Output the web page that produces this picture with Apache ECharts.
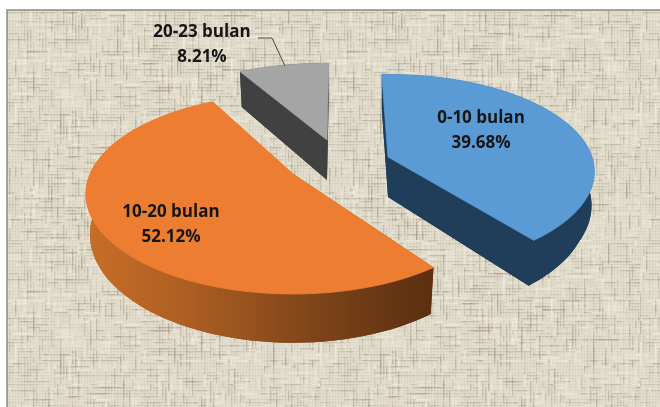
<!DOCTYPE html>
<html><head><meta charset="utf-8">
<style>html,body{margin:0;padding:0;background:#fff}#c{width:660px;height:407px}</style>
<script src="https://cdn.jsdelivr.net/npm/echarts@6/dist/echarts.min.js"></script>
</head><body><div id="c"></div>
<script>
const categories = ['0-10 bulan', '10-20 bulan', '20-23 bulan'];
const shares = [39.68, 52.12, 8.21];
const shareLabels = ['39.68%', '52.12%', '8.21%'];

// projection of each exploded slice: tilted disc with perspective
const apexX = [388, 293, 327];
const apexY = [157, 174, 140];
const radiusX = [204, 203, 203];
const radiusY = [95, 96, 88.5];
const perspective = [0.15, 0.2, 0.15];
const startDeg = [-2, 144.6, 331];
const depth = [40, 39, 40];
const shrink = [0.965, 0.98, 0.98];
const topColors = ['#5B9BD5', '#ED7D31', '#A5A5A5'];
const sideColors = ['#203E59', '#8A4C1C', '#414141'];
const labelX = [481, 171, 202];
const labelY = [118, 212, 32];
const drawOrder = [2, 1, 0];

function makeTexture() {
  const W = 320, H = 240, cv = document.createElement('canvas');
  cv.width = W; cv.height = H;
  const g = cv.getContext('2d');
  g.fillStyle = '#E3DDCD'; g.fillRect(0, 0, W, H);
  let seed = 11;
  const rnd = () => (seed = (seed * 16807) % 2147483647) / 2147483647;
  g.filter = 'blur(0.6px)';
  g.fillStyle = 'rgba(170,160,135,0.10)';
  for (let x = 0; x < W; x += 3) g.fillRect(x, 0, 1, H);
  for (let y = 0; y < H; y += 3) g.fillRect(0, y, W, 1);
  for (let i = 0; i < 2600; i++) {
    const horiz = rnd() < 0.5, dark = rnd() < 0.55;
    const gx = Math.floor(rnd() * W / 3) * 3, gy = Math.floor(rnd() * H / 3) * 3;
    const len = 4 + rnd() * 22;
    g.fillStyle = dark ? 'rgba(150,140,115,' + (0.1 + rnd() * 0.25) + ')'
                       : 'rgba(242,237,222,' + (0.25 + rnd() * 0.4) + ')';
    if (horiz) g.fillRect(gx, gy, len, 1.4); else g.fillRect(gx, gy, 1.4, len);
  }
  return cv;
}

function point(i, deg, lower) {
  const t = deg * Math.PI / 180;
  const s = 1 / (1 + perspective[i] * Math.cos(t));
  let x = radiusX[i] * Math.sin(t) * s;
  let y = -radiusY[i] * Math.cos(t) * s;
  if (lower) {
    const ramp = Math.max(0, Math.min(1, (deg - 85) / 30));
    x *= 1 - (1 - shrink[i]) * ramp;
    y += depth[i] * s;
  }
  return [apexX[i] + x, apexY[i] + y];
}
function arc(i, lower) {
  const a = startDeg[i], span = shares[i] * 3.6, pts = [];
  for (let k = 0; k <= 80; k++) pts.push(point(i, a + span * k / 80, lower));
  return pts;
}
function poly(points, fill, stroke) {
  return { type: 'polygon', shape: { points }, style: { fill, stroke: stroke || null, lineWidth: stroke ? 0.8 : 0 } };
}

const textFont = '"Open Sans","Noto Sans",sans-serif';
function renderItem(params, api) {
  const i = api.value(0);
  const top = arc(i, false), low = arc(i, true);
  const n = top.length - 1;
  let side = sideColors[i];
  if (i === 1) {
    side = new echarts.graphic.LinearGradient(87, 0, 432, 0, [
      { offset: 0, color: '#C76E28' }, { offset: 0.3, color: '#AC5E22' },
      { offset: 0.65, color: '#7F451A' }, { offset: 1, color: '#5B2F10' }], true);
  }
  const apexTop = [apexX[i], apexY[i]], apexLow = [apexX[i], apexY[i] + depth[i]];
  const children = [
    poly([apexLow].concat(low), side),
    poly(top.concat(low.slice().reverse()), side),
    poly([apexTop, top[0], low[0], apexLow], side),
    poly([apexTop, top[n], low[n], apexLow], side),
    poly([apexTop].concat(top), topColors[i], topColors[i])
  ];
  return { type: 'group', children };
}
function renderLabel(params, api) {
  const i = api.value(0);
  const t = (text, y) => ({ type: 'text', style: { text, x: labelX[i], y, align: 'center', verticalAlign: 'middle',
    fill: '#151515', font: 'bold 17px ' + textFont } });
  return { type: 'group', children: [t(categories[i], labelY[i]), t(shareLabels[i], labelY[i] + 25)] };
}
function renderLeader() {
  return { type: 'polyline', shape: { points: [[258, 38], [272, 38], [285, 66]] },
    style: { stroke: '#4A4A48', lineWidth: 1, fill: null } };
}

const chart = echarts.init(document.getElementById('c'), null, { renderer: 'canvas' });
chart.setOption({
  animation: false,
  backgroundColor: '#fff',
  graphic: [{ type: 'rect', z: -10, shape: { x: 7, y: 10, width: 660, height: 407 },
    style: { fill: { image: makeTexture(), repeat: 'repeat' }, stroke: '#8C8A7C', lineWidth: 1.5 }, silent: true }],
  series: [
    { type: 'custom', coordinateSystem: 'none', renderItem, silent: true, z: 2,
      data: drawOrder.map(i => [i, shares[i]]) },
    { type: 'custom', coordinateSystem: 'none', renderItem: renderLeader, silent: true, z: 3, data: [[0]] },
    { type: 'custom', coordinateSystem: 'none', renderItem: renderLabel, silent: true, z: 4,
      data: categories.map((c, i) => [i]) }
  ]
});
</script></body></html>
